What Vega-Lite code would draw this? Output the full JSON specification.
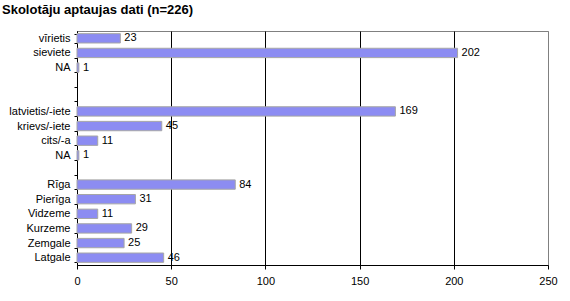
{
  "$schema": "https://vega.github.io/schema/vega-lite/v6.json",
  "autosize": {"type": "none"},
  "width": 471,
  "height": 234,
  "padding": {"left": 77, "top": 31, "right": 22, "bottom": 36},
  "background": "white",
  "title": {
    "text": "Skolotāju aptaujas dati (n=226)",
    "anchor": "start",
    "frame": "group",
    "dx": -75,
    "offset": 8,
    "font": "Liberation Sans",
    "fontSize": 13,
    "fontWeight": "bold",
    "color": "black"
  },
  "data": {
    "values": [
      {"category": "vīrietis", "count": 23},
      {"category": "sieviete", "count": 202},
      {"category": "NA", "count": 1},
      {"category": "latvietis/-iete", "count": 169},
      {"category": "krievs/-iete", "count": 45},
      {"category": "cits/-a", "count": 11},
      {"category": "NA ", "count": 1},
      {"category": "Rīga", "count": 84},
      {"category": "Pierīga", "count": 31},
      {"category": "Vidzeme", "count": 11},
      {"category": "Kurzeme", "count": 29},
      {"category": "Zemgale", "count": 25},
      {"category": "Latgale", "count": 46}
    ]
  },
  "encoding": {
    "y": {
      "field": "category",
      "type": "nominal",
      "scale": {
        "domain": ["vīrietis", "sieviete", "NA", " ", "  ", "latvietis/-iete", "krievs/-iete", "cits/-a", "NA ", "   ", "Rīga", "Pierīga", "Vidzeme", "Kurzeme", "Zemgale", "Latgale"],
        "paddingInner": 0.36,
        "paddingOuter": 0.18
      },
      "axis": {
        "title": null,
        "domainColor": "black",
        "tickColor": "black",
        "tickSize": 3,
        "tickBand": "extent",
        "labelFont": "Liberation Sans",
        "labelFontSize": 11,
        "labelColor": "black",
        "labelPadding": 4,
        "grid": false
      }
    },
    "x": {
      "field": "count",
      "type": "quantitative",
      "scale": {"domain": [0, 250], "nice": false},
      "axis": {
        "title": null,
        "values": [0, 50, 100, 150, 200, 250],
        "labelFlush": false,
        "domainColor": "black",
        "tickColor": "black",
        "tickSize": 4,
        "labelFont": "Liberation Sans",
        "labelFontSize": 11,
        "labelColor": "black",
        "labelPadding": 6,
        "grid": true,
        "gridColor": {"condition": {"test": "datum.value == 250", "value": "#808080"}, "value": "black"},
        "gridOpacity": 1,
        "gridWidth": 1
      }
    }
  },
  "layer": [
    {
      "mark": {"type": "bar", "color": "#8c8cf2", "stroke": "#a6a6a6", "strokeWidth": 1}
    },
    {
      "mark": {"type": "text", "align": "left", "baseline": "middle", "dx": 4, "font": "Liberation Sans", "fontSize": 11, "color": "black"},
      "encoding": {"text": {"field": "count", "type": "quantitative"}}
    }
  ],
  "config": {
    "view": {"stroke": "#808080", "strokeWidth": 1}
  }
}
